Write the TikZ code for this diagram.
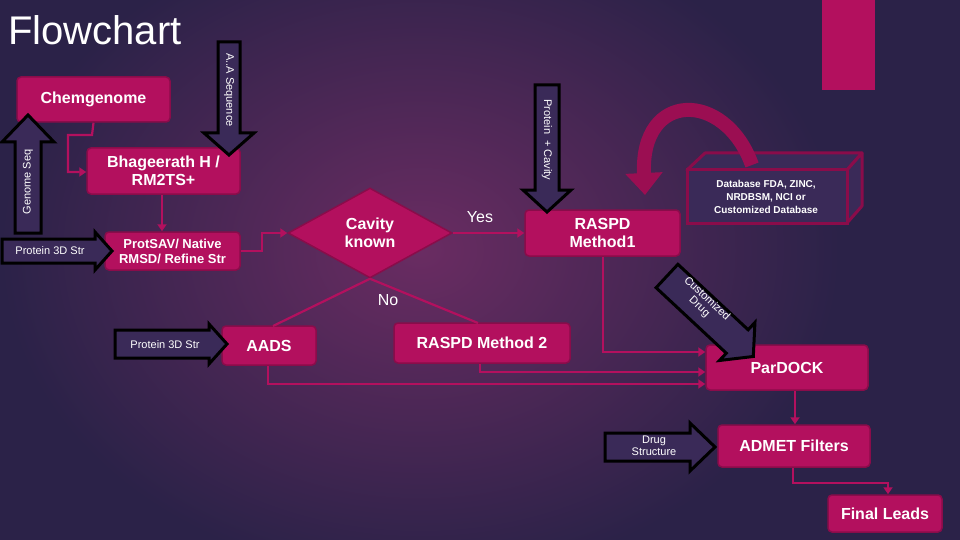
\documentclass[tikz,border=0pt]{standalone}
\usepackage{fontspec}
\setmainfont{Liberation Sans}
\usetikzlibrary{arrows.meta,shapes.geometric}
\definecolor{mag}{HTML}{B3105E}
\definecolor{magd}{HTML}{8A0C4A}
\definecolor{bgd}{HTML}{2B2248}
\definecolor{bgm}{HTML}{6A2C62}
\definecolor{arrf}{HTML}{3A2A58}
\newcommand\fatarrow[7]{\begin{scope}[shift={(#1)},rotate=#2]
\draw[fatarr] (0,-#4)--(#3-#6,-#4)--(#3-#6,-#5)--(#3,0)--(#3-#6,#5)--(#3-#6,#4)--(0,#4)--cycle;
\coordinate (#7) at (0,0);\end{scope}}
\begin{document}
\begin{tikzpicture}[x=1pt,y=-1pt,
 box/.style={draw=magd,line width=1.5pt,fill=mag,rounded corners=4pt,text=white,font=\bfseries\fontsize{16}{18}\selectfont,align=center,inner sep=0pt},
 fatarr/.style={draw=black,line width=3pt,fill=arrf,line join=miter},
 atxt/.style={text=white,font=\fontsize{11}{12}\selectfont,align=center,inner sep=0pt},
 con/.style={draw=mag,line width=2.2pt,-{Triangle[width=9pt,length=7pt]}},
 lbl/.style={text=white,font=\fontsize{16}{18}\selectfont,inner sep=0pt}]
\useasboundingbox (0,0) rectangle (960,540);
\fill[bgd] (0,0) rectangle (960,540);
\shade[inner color=bgm,outer color=bgd] (420,250) ellipse (420 and 330);
\fill[mag] (822,0) rectangle (875,90);
\node[anchor=west,text=white,font=\fontsize{40}{44}\selectfont,inner sep=0pt] (title) at (8,30) {Flowchart};
% boxes
\node[box,minimum width=153,minimum height=45] (chem) at (93.5,99.5) {Chemgenome};
\node[box,minimum width=153,minimum height=46] (bhag) at (163.5,171) {Bhageerath H /\\RM2TS+};
\node[box,minimum width=135,minimum height=38,font=\bfseries\fontsize{13}{15}\selectfont] (prot) at (172.5,251) {ProtSAV/ Native\\RMSD/ Refine Str};
\node[diamond,draw=magd,line width=1.5pt,fill=mag,minimum width=164,minimum height=90,text=white,font=\bfseries\fontsize{16}{18}\selectfont,align=center,inner sep=0pt] (cav) at (370,233) {Cavity\\known};
\node[box,minimum width=155,minimum height=46] (r1) at (602.5,233) {RASPD\\Method1};
\node[box,minimum width=94,minimum height=39] (aads) at (269,345.5) {AADS};
\node[box,minimum width=176,minimum height=40] (r2) at (482,343) {RASPD Method 2};
\node[box,minimum width=162,minimum height=45] (par) at (787,367.5) {ParDOCK};
\node[box,minimum width=152,minimum height=42] (adm) at (794,446) {ADMET Filters};
\node[box,minimum width=114,minimum height=37] (fin) at (885,513.5) {Final Leads};
% database box
\draw[magd,line width=3pt,fill=arrf,line join=round] (687,170)--(705,153)--(862,153)--(847,170)--cycle;
\draw[magd,line width=3pt,fill=arrf,line join=round] (847,170)--(862,153)--(862,206)--(847,223)--cycle;
\draw[magd,line width=3pt,fill=arrf] (687,170) rectangle (847,223);
\node[atxt,font=\bfseries\fontsize{10}{13}\selectfont] (db) at (766,197) {Database FDA, ZINC,\\NRDBSM, NCI or\\Customized Database};
\draw[magd!60!mag,line width=14pt,-{Triangle[width=36pt 0,length=22pt 0]}] (752,165) .. controls (725,90) and (640,90) .. (645,195);
% fat arrows
\fatarrow{229,42}{-90}{113}{11}{25}{22}{aaT}
\node[atxt,rotate=-90] (aat) at (229,90) {A..A Sequence};
\fatarrow{547,85}{-90}{127}{12}{24}{22}{pcT}
\node[atxt,rotate=-90] (pct) at (547,140) {Protein \ + Cavity};
\fatarrow{28,233}{90}{118}{13}{26}{27}{gsT}
\node[atxt,rotate=90] (gst) at (28,182) {Genome Seq};
\fatarrow{2,251}{0}{110}{12}{19}{17}{p1T}
\node[atxt] (p1t) at (50,251) {Protein 3D Str};
\fatarrow{115,344}{0}{112}{14}{20}{18}{p2T}
\node[atxt] (p2t) at (165,345) {Protein 3D Str};
\fatarrow{605,447}{0}{110}{14}{24}{25}{dsT}
\node[atxt] (dst) at (654,446) {Drug\\Structure};
\fatarrow{667,276}{-43}{118}{16}{26}{22}{cdT}
\node[atxt,rotate=-43,font=\fontsize{11}{11}\selectfont] (cdt) at (703,303) {Customized\\Drug};
% connectors
\draw[con] (chem.south) -- (92,135) -- (68,135) -- (68,172) -- (bhag.west |- 0,172);
\draw[con] (bhag.south -| 162,0) -- (prot.north -| 162,0);
\draw[con] (prot.east) -- (262,251) -- (262,233) -- (cav.west);
\draw[con] (cav.east) -- (r1.west);
\node[lbl] (yes) at (480,217) {Yes};
\draw[mag,line width=2.2pt] (cav.south) -- (273,326);
\draw[mag,line width=2.2pt] (cav.south) -- (478,323);
\node[lbl] (no) at (388,300) {No};
\draw[con] (r1.south -| 603,0) -- (603,352) -- (par.west |- 0,352);
\draw[con] (r2.south -| 480,0) -- (480,372) -- (par.west |- 0,372);
\draw[con] (aads.south -| 268,0) -- (268,384) -- (par.west |- 0,384);
\draw[con] (par.south -| 795,0) -- (adm.north -| 795,0);
\draw[con] (adm.south -| 793,0) -- (793,483) -- (888,483) -- (fin.north -| 888,0);
\end{tikzpicture}
\end{document}
